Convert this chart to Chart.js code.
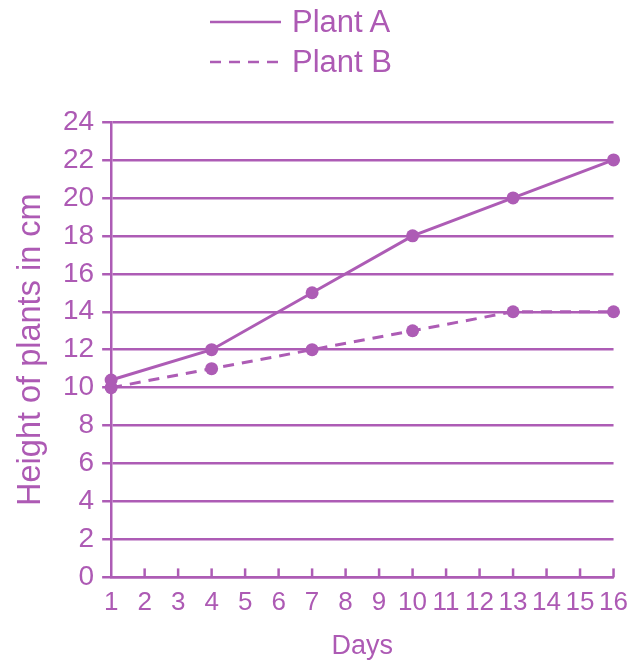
<!DOCTYPE html>
<html>
<head>
<meta charset="utf-8">
<script src="https://cdn.jsdelivr.net/npm/chart.js@4.4.1/dist/chart.umd.min.js"></script>
<style>
  html, body { margin: 0; padding: 0; background: #fff; }
  #wrap { position: relative; width: 638px; height: 663px; }
  .item { position: absolute; left: 210px; height: 36px; display: flex; align-items: center; white-space: nowrap;
          font-family: "Liberation Sans", Arial, sans-serif; font-size: 31px; color: #ad5ab4; }
  .item svg { margin-right: 11px; }
</style>
</head>
<body>
<div id="wrap">
  <canvas id="chart" width="638" height="663"></canvas>
  <div class="item" style="top:4px">
    <svg width="71" height="6"><line x1="0" y1="3" x2="71" y2="3" stroke="#ad5cb5" stroke-width="2.5"/></svg>Plant A
  </div>
  <div class="item" style="top:44px">
    <svg width="71" height="6"><line x1="0" y1="3" x2="71" y2="3" stroke="#ad5cb5" stroke-width="2.5" stroke-dasharray="11 8"/></svg>Plant B
  </div>
</div>
<script>
// values
const days = [1, 4, 7, 10, 13, 16];
const plantA = [10.4, 12, 15, 18, 20, 22];
const plantB = [10, 11, 12, 13, 14, 14];
const dayTicks = [1, 2, 3, 4, 5, 6, 7, 8, 9, 10, 11, 12, 13, 14, 15, 16];
const heightTicks = [0, 2, 4, 6, 8, 10, 12, 14, 16, 18, 20, 22, 24];

const purple = '#ad5cb5';
const textPurple = '#ad5ab4';
const fontFamily = "'Liberation Sans', Arial, sans-serif";

// small tick marks pointing up from the x axis
const innerTicks = {
  id: 'innerTicks',
  afterDraw(chart) {
    const x = chart.scales.x;
    const ctx = chart.ctx;
    const bottom = chart.chartArea.bottom;
    ctx.save();
    ctx.strokeStyle = purple;
    ctx.lineWidth = 2.5;
    dayTicks.forEach(d => {
      if (d === dayTicks[0]) return;
      const px = x.getPixelForValue(d);
      ctx.beginPath();
      ctx.moveTo(px, bottom);
      ctx.lineTo(px, bottom - 9);
      ctx.stroke();
    });
    ctx.restore();
  }
};

const toPoints = vals => vals.map((v, i) => ({ x: days[i], y: v }));

new Chart(document.getElementById('chart'), {
  type: 'line',
  data: {
    datasets: [
      {
        label: 'Plant A',
        data: toPoints(plantA),
        borderColor: purple,
        backgroundColor: purple,
        borderWidth: 3,
        pointRadius: 6.5,
        pointBackgroundColor: purple,
        pointBorderWidth: 0,
        tension: 0,
        clip: false
      },
      {
        label: 'Plant B',
        data: toPoints(plantB),
        borderColor: purple,
        backgroundColor: purple,
        borderWidth: 3,
        borderDash: [11, 8],
        pointRadius: 6.5,
        pointBackgroundColor: purple,
        pointBorderWidth: 0,
        tension: 0,
        clip: false
      }
    ]
  },
  options: {
    responsive: false,
    animation: false,
    layout: {
      padding: { top: 122, right: 24, bottom: 0, left: 0 }
    },
    plugins: {
      legend: { display: false },
      tooltip: { enabled: false }
    },
    scales: {
      x: {
        type: 'linear',
        min: dayTicks[0],
        max: dayTicks[dayTicks.length - 1],
        afterBuildTicks: axis => { axis.ticks = dayTicks.map(v => ({ value: v })); },
        grid: { display: false, drawTicks: false },
        border: { display: true, color: purple, width: 2.5 },
        ticks: {
          color: textPurple,
          padding: 10,
          maxRotation: 0,
          autoSkip: false,
          font: { family: fontFamily, size: 26 }
        },
        title: {
          display: true,
          text: 'Days',
          color: textPurple,
          padding: { top: 2, bottom: 0 },
          font: { family: fontFamily, size: 27 }
        }
      },
      y: {
        min: heightTicks[0],
        max: heightTicks[heightTicks.length - 1],
        afterBuildTicks: axis => { axis.ticks = heightTicks.map(v => ({ value: v })); },
        grid: { color: purple, lineWidth: 2.5, tickLength: 9 },
        border: { display: true, color: purple, width: 2.5 },
        ticks: {
          color: textPurple,
          padding: 8,
          font: { family: fontFamily, size: 28 }
        },
        title: {
          display: true,
          text: 'Height of plants in cm',
          color: textPurple,
          padding: { top: 12, bottom: 4 },
          font: { family: fontFamily, size: 32.5 }
        }
      }
    }
  },
  plugins: [innerTicks]
});
</script>
</body>
</html>
